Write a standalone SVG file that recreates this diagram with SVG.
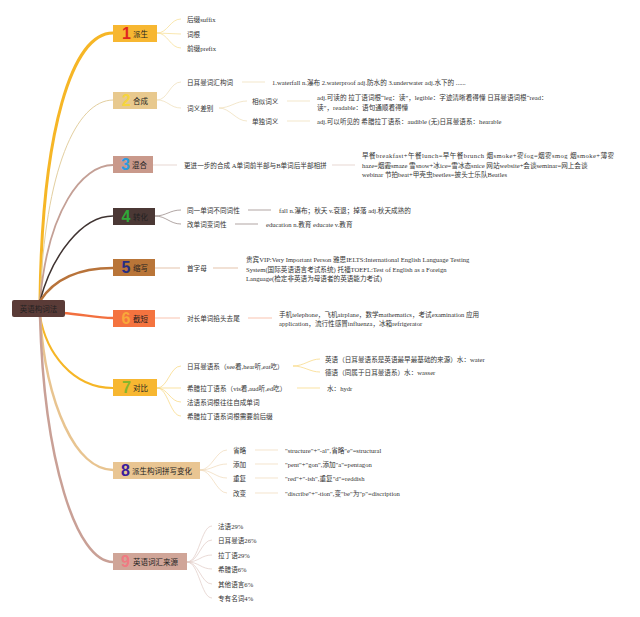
<svg xmlns="http://www.w3.org/2000/svg" width="640" height="617" viewBox="0 0 640 617">
<style>
text{dominant-baseline:central}
.t{font-family:"Liberation Serif","Noto Sans CJK SC",serif;font-size:6.6px;fill:#333}
.m{font-family:"Noto Sans CJK SC",sans-serif;font-size:7.5px;fill:#222}
.n{font-family:"Liberation Sans","Noto Sans CJK SC",sans-serif;font-size:16px;font-weight:bold;text-anchor:middle}
.c{fill:none;stroke-linecap:round}
.s{fill:none;stroke-width:0.7}
</style>
<rect width="640" height="617" fill="#ffffff"/>
<g id="connectors">
<path class="c" d="M40,301 C42,130 72,33 113,33" stroke="#f6b626" stroke-width="3"/>
<path class="c" d="M40,301 C45,170 76,100 113,100" stroke="#e3cfa0" stroke-width="1"/>
<path class="c" d="M40,301 C48,210 82,165 113,165" stroke="#c4a096" stroke-width="1.8"/>
<path class="c" d="M40,301 C52,255 82,216 113,216" stroke="#3f3331" stroke-width="1.5"/>
<path class="c" d="M40,301 C56,276 82,268 113,268" stroke="#b8733a" stroke-width="2.5"/>
<path class="c" d="M62,313 C82,314 96,318 113,318" stroke="#f2703f" stroke-width="2.5"/>
<path class="c" d="M40,316 C46,352 72,388 113,388" stroke="#f6b626" stroke-width="2"/>
<path class="c" d="M40,316 C46,405 76,470 113,470" stroke="#e8c490" stroke-width="2.5"/>
<path class="c" d="M40,316 C44,460 76,562 113,562" stroke="#c9a096" stroke-width="2.5"/>
<g stroke="#f7dc8e">
<path class="s" d="M157,33 C168,33 170,19 181,19"/>
<path class="s" d="M157,33 L181,34"/>
<path class="s" d="M157,33 C168,33 170,48 181,48"/>
</g>
<g stroke="#eedcb6">
<path class="s" d="M157,100 C168,100 170,82 181,82"/>
<path class="s" d="M157,100 C168,100 170,108 181,108"/>
<path class="s" d="M242,82 L265,82"/>
<path class="s" d="M219,108 C230,108 236,101 247,101"/>
<path class="s" d="M219,108 C230,108 236,121 247,121"/>
<path class="s" d="M287,101 L310,101"/>
<path class="s" d="M287,121 L310,121"/>
</g>
<g stroke="#dcc6be">
<path class="s" d="M153,165 L177,165"/>
<path class="s" d="M332,165 L355,165"/>
</g>
<g stroke="#8f807d">
<path class="s" d="M155,216 C166,216 170,210 181,210"/>
<path class="s" d="M155,216 C166,216 170,224 181,224"/>
<path class="s" d="M248,210 L271,210"/>
<path class="s" d="M235,224 L258,224"/>
</g>
<g stroke="#d9ab86">
<path class="s" d="M155,268 L180,268"/>
<path class="s" d="M213,268 L238,268"/>
</g>
<g stroke="#f7ab8c">
<path class="s" d="M155,318 L180,318"/>
<path class="s" d="M248,318 L272,318"/>
</g>
<g stroke="#f8d67a">
<path class="s" d="M157,388 C168,388 170,366 181,366"/>
<path class="s" d="M157,388 L181,388"/>
<path class="s" d="M157,388 C168,388 170,402 181,402"/>
<path class="s" d="M157,388 C168,388 170,416 181,416"/>
<path class="s" d="M293,366 C304,366 310,359 320,359"/>
<path class="s" d="M293,366 C304,366 310,372 320,372"/>
<path class="s" d="M297,388 L320,388"/>
</g>
<g stroke="#efd9b8">
<path class="s" d="M200,470 C212,470 216,450 227,450"/>
<path class="s" d="M200,470 C212,470 216,464 227,464"/>
<path class="s" d="M200,470 C212,470 216,478 227,478"/>
<path class="s" d="M200,470 C212,470 216,493 227,493"/>
<path class="s" d="M255,450 L278,450"/>
<path class="s" d="M255,464 L278,464"/>
<path class="s" d="M255,478 L278,478"/>
<path class="s" d="M255,493 L278,493"/>
</g>
<g stroke="#dfcac4">
<path class="s" d="M187,562 C199,562 201,526 212,526"/>
<path class="s" d="M187,562 C199,562 201,540 212,540"/>
<path class="s" d="M187,562 C199,562 201,555 212,555"/>
<path class="s" d="M187,562 C199,562 201,569 212,569"/>
<path class="s" d="M187,562 C199,562 201,584 212,584"/>
<path class="s" d="M187,562 C199,562 201,598 212,598"/>
</g>
</g>
<g id="root">
<rect x="12" y="300" width="53" height="17" rx="2" fill="#5a3b37"/>
<text class="m" x="38.5" y="308.5" text-anchor="middle" fill="#1e1210">英语构词法</text>
</g>
<g id="n1">
<rect x="113" y="25" width="44" height="17" fill="#f7b731"/>
<text class="n" x="126.5" y="33.5" fill="#e0261f">1</text>
<text class="m" x="133" y="33.5">派生</text>
<text class="t" x="187" y="19">后缀suffix</text>
<text class="t" x="187" y="34">词根</text>
<text class="t" x="187" y="48.5">前缀prefix</text>
</g>
<g id="n2">
<rect x="113" y="92" width="44" height="17" fill="#e8c98e"/>
<text class="n" x="126.5" y="100.5" fill="#f6d53c">2</text>
<text class="m" x="133" y="100.5">合成</text>
<text class="t" x="187" y="82">日耳曼词汇构词</text>
<text class="t" x="272" y="82">1.waterfall n.瀑布 2.waterproof adj.防水的 3.underwater adj.水下的 ......</text>
<text class="t" x="187" y="108">词义差别</text>
<text class="t" x="252" y="101">相似词义</text>
<text class="t" x="317" y="97">adj.可读的 拉丁语词根“leg：读”，legible：字迹清晰看得懂 日耳曼语词根“read：</text>
<text class="t" x="317" y="107">读”，readable：语句通顺看得懂</text>
<text class="t" x="252" y="121">单独词义</text>
<text class="t" x="317" y="121">adj.可以听见的 希腊拉丁语系：audible (无)日耳曼语系：hearable</text>
</g>
<g id="n3">
<rect x="113" y="156" width="40" height="17" fill="#c9998b"/>
<text class="n" x="125.5" y="164.5" fill="#2d9be0">3</text>
<text class="m" x="132" y="164.5">混合</text>
<text class="t" x="184" y="165">更进一步的合成 A单词前半部与B单词后半部相拼</text>
<text class="t" x="362" y="155.5" textLength="252" lengthAdjust="spacing">早餐breakfast+午餐lunch=早午餐brunch 烟smoke+雾fog=烟雾smog 烟smoke+薄雾</text>
<text class="t" x="362" y="165">haze=烟霾smaze 雪snow+冰ice=雪冰态snice 网站website+会谈seminar=网上会谈</text>
<text class="t" x="362" y="174.5">webinar 节拍beat+甲壳虫beetles=披头士乐队Beatles</text>
</g>
<g id="n4">
<rect x="113" y="208" width="42" height="17" fill="#4b3835"/>
<text class="n" x="126" y="216.5" fill="#2fa838">4</text>
<text class="m" x="133" y="216.5" fill="#2a2522">转化</text>
<text class="t" x="187" y="210">同一单词不同词性</text>
<text class="t" x="279" y="210">fall n.瀑布；秋天 v.衰退；掉落 adj.秋天成熟的</text>
<text class="t" x="187" y="224">改单词变词性</text>
<text class="t" x="266" y="224">education n.教育 educate v.教育</text>
</g>
<g id="n5">
<rect x="113" y="259" width="42" height="17" fill="#b97538"/>
<text class="n" x="126" y="267.5" fill="#262e82">5</text>
<text class="m" x="133" y="267.5">缩写</text>
<text class="t" x="187" y="268">首字母</text>
<text class="t" x="246" y="259.5">贵宾VIP:Very Important Person 雅思IELTS:International English Language Testing</text>
<text class="t" x="246" y="269">System(国际英语语言考试系统) 托福TOEFL:Test of English as a Foreign</text>
<text class="t" x="246" y="278.5">Language(检定非英语为母语者的英语能力考试)</text>
</g>
<g id="n6">
<rect x="113" y="310" width="42" height="17" fill="#f4733f"/>
<text class="n" x="126" y="318.5" fill="#f9a83a" font-size="13">6</text>
<text class="m" x="133" y="318.5">截短</text>
<text class="t" x="187" y="318.5">对长单词掐头去尾</text>
<text class="t" x="279" y="314">手机telephone，飞机airplane，数学mathematics，考试examination 应用</text>
<text class="t" x="279" y="323.5">application，流行性感冒influenza，冰箱refrigerator</text>
</g>
<g id="n7">
<rect x="113" y="379" width="44" height="17" fill="#f7b731"/>
<text class="n" x="126.5" y="387.5" fill="#86b52c">7</text>
<text class="m" x="133" y="387.5">对比</text>
<text class="t" x="187" y="366">日耳曼语系（see看,hear听,eat吃）</text>
<text class="t" x="325" y="359">英语（日耳曼语系是英语最早最基础的来源）水：water</text>
<text class="t" x="325" y="372">德语（同属于日耳曼语系）水：wasser</text>
<text class="t" x="187" y="388">希腊拉丁语系（vis看,aud听,ed吃）</text>
<text class="t" x="327" y="388">水：hydr</text>
<text class="t" x="187" y="402">法语系词根往往自成单词</text>
<text class="t" x="187" y="416">希腊拉丁语系词根需要前后缀</text>
</g>
<g id="n8">
<rect x="113" y="462" width="87" height="17" fill="#e9c592"/>
<text class="n" x="125.5" y="470.5" fill="#3a1d9c">8</text>
<text class="m" x="132" y="470.5">派生构词拼写变化</text>
<text class="t" x="233" y="450">省略</text>
<text class="t" x="285" y="450">"structure"+"-al",省略"e"=structural</text>
<text class="t" x="233" y="464">添加</text>
<text class="t" x="285" y="464">"pent"+"gon",添加"a"=pentagon</text>
<text class="t" x="233" y="478">重复</text>
<text class="t" x="285" y="478">"red"+"-ish",重复"d"=reddish</text>
<text class="t" x="233" y="493">改变</text>
<text class="t" x="285" y="493">"discribe"+"-tion",变"be"为"p"=discription</text>
</g>
<g id="n9">
<rect x="113" y="553" width="74" height="17" fill="#d0a598"/>
<text class="n" x="125.5" y="561.5" fill="#f07a82" font-size="14">9</text>
<text class="m" x="133" y="561.5">英语词汇来源</text>
<text class="t" x="218" y="526">法语29%</text>
<text class="t" x="218" y="540">日耳曼语26%</text>
<text class="t" x="218" y="555">拉丁语29%</text>
<text class="t" x="218" y="569">希腊语6%</text>
<text class="t" x="218" y="584">其他语言6%</text>
<text class="t" x="218" y="598">专有名词4%</text>
</g>
</svg>
